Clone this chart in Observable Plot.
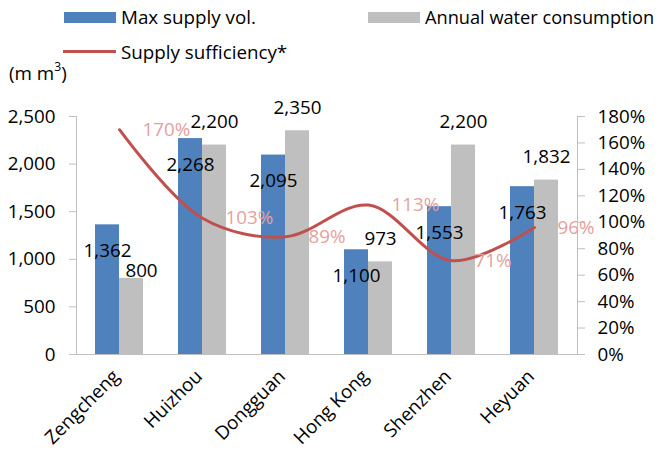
<!DOCTYPE html>
<html>
<head>
<meta charset="utf-8">
<script src="https://cdn.jsdelivr.net/npm/d3@7"></script>
<script src="https://cdn.jsdelivr.net/npm/@observablehq/plot@0.6"></script>
<style>
  html, body { margin: 0; padding: 0; background: #fff; }
  body { width: 660px; height: 450px; overflow: hidden; font-family: "Open Sans", sans-serif; font-size: 18.8px; color: #000; }
  #head { position: relative; height: 90px; }
  #head .sw { position: absolute; }
  #head .lab { position: absolute; line-height: 22px; white-space: nowrap; }
</style>
</head>
<body>
<div id="head">
  <div class="sw" style="left:64px;top:12px;width:52px;height:11px;background:#4F81BD"></div>
  <div class="lab" style="left:121px;top:6px">Max supply vol.</div>
  <div class="sw" style="left:368px;top:12px;width:52px;height:11px;background:#BFBFBF"></div>
  <div class="lab" style="left:425px;top:6px;font-size:18.2px">Annual water consumption</div>
  <div class="sw" style="left:63px;top:50px;width:53px;height:3px;background:#C0504D"></div>
  <div class="lab" style="left:121px;top:41px">Supply sufficiency*</div>
  <div class="lab" style="left:9px;top:62px">(m m<sup style="font-size:65%;line-height:0;vertical-align:0.7em">3</sup>)</div>
</div>
<div id="chart"></div>
<script>
// Categories and values (million m³; sufficiency in %)
const categories = ["Zengcheng", "Huizhou", "Dongguan", "Hong Kong", "Shenzhen", "Heyuan"];
const maxSupply = [1362, 2268, 2095, 1100, 1553, 1763];
const consumption = [800, 2200, 2350, 973, 2200, 1832];
const sufficiency = [170, 103, 89, 113, 71, 96];
const volumeTicks = [0, 500, 1000, 1500, 2000, 2500];
const percentTicks = [0, 20, 40, 60, 80, 100, 120, 140, 160, 180];

const volMax = 2500, pctMax = 180;
const pctToVol = (p) => (p / pctMax) * volMax;

const rows = categories.map((c, i) => ({
  category: c,
  supply: maxSupply[i],
  consumption: consumption[i],
  pct: sufficiency[i]
}));

const fmt = d3.format(",");
const axisGrey = "#BFBFBF";

const chart = Plot.plot({
  width: 660,
  height: 360,
  marginTop: 26,
  marginBottom: 96,
  marginLeft: 76,
  marginRight: 83,
  style: { fontFamily: "'Open Sans', sans-serif", fontSize: "18.8px", color: "#000", background: "#fff", overflow: "visible" },
  x: { domain: categories, paddingInner: 0.425, paddingOuter: 0.2125, axis: null },
  y: { domain: [0, volMax], axis: null },
  marks: [
    // bars: supply on the left half of each band, consumption on the right
    Plot.barY(rows, { x: "category", y: "supply", fill: "#4F81BD", insetRight: 24 }),
    Plot.barY(rows, { x: "category", y: "consumption", fill: "#BFBFBF", insetLeft: 24 }),

    // axis lines
    Plot.ruleY([0], { stroke: axisGrey }),
    Plot.frame({ anchor: "left", stroke: axisGrey }),
    Plot.frame({ anchor: "right", stroke: axisGrey }),

    // left axis: volume
    Plot.axisY({ anchor: "left", ticks: volumeTicks, tickFormat: fmt, tickSize: 7, tickPadding: 14, stroke: axisGrey, fill: "#000" }),
    // right axis: sufficiency, drawn on the same y scale
    Plot.axisY({
      anchor: "right",
      ticks: percentTicks.map(pctToVol),
      tickFormat: (v) => Math.round((v / volMax) * pctMax) + "%",
      tickSize: 7, tickPadding: 13, stroke: axisGrey, fill: "#000"
    }),

    // category labels, rotated
    Plot.text(categories, { x: (d) => d, frameAnchor: "bottom", rotate: -45, textAnchor: "end", dx: 1, dy: 23 }),

    // sufficiency line
    Plot.line(rows, { x: "category", y: (d) => pctToVol(d.pct), stroke: "#C0504D", strokeWidth: 3, curve: "catmull-rom" }),

    // value labels
    Plot.text(rows, { x: "category", y: "supply", text: (d) => fmt(d.supply), dx: -12, dy: 26 }),
    Plot.text(rows.filter((d) => d.category !== "Zengcheng"), { x: "category", y: "consumption", text: (d) => fmt(d.consumption), dx: 12, dy: -23 }),
    // the short Zengcheng bar's label sits beside the neighbouring label
    Plot.text(rows.filter((d) => d.category === "Zengcheng"), { x: "category", y: "consumption", text: (d) => fmt(d.consumption), dx: 22, dy: -7 }),
    Plot.text(rows, { x: "category", y: (d) => pctToVol(d.pct), text: (d) => d.pct + "%", fill: "#E6A09E", textAnchor: "start", dx: 23 })
  ]
});

document.getElementById("chart").appendChild(chart);
</script>
</body>
</html>
